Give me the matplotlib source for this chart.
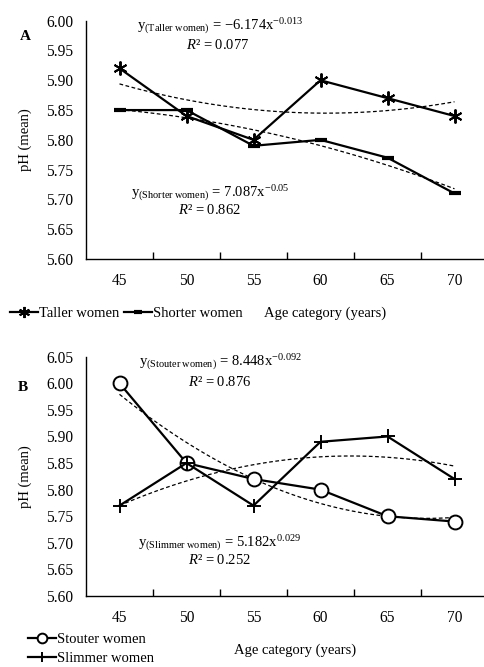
import numpy as np
import matplotlib
matplotlib.use("Agg")
import matplotlib.pyplot as plt

plt.rcParams['font.family'] = ['Liberation Serif', 'DejaVu Serif']
plt.rcParams['mathtext.fontset'] = 'custom'
plt.rcParams['mathtext.rm'] = 'Liberation Serif'
plt.rcParams['mathtext.it'] = 'Liberation Serif:italic'
plt.rcParams['mathtext.bf'] = 'Liberation Serif:bold'

ages = ['45', '50', '55', '60', '65', '70']
taller = [5.92, 5.84, 5.80, 5.90, 5.87, 5.84]
shorter = [5.85, 5.85, 5.79, 5.80, 5.77, 5.71]
stouter = [6.00, 5.85, 5.82, 5.80, 5.75, 5.74]
slimmer = [5.77, 5.85, 5.77, 5.89, 5.90, 5.82]

yticks_a = [5.60, 5.65, 5.70, 5.75, 5.80, 5.85, 5.90, 5.95, 6.00]
yticks_b = [5.60, 5.65, 5.70, 5.75, 5.80, 5.85, 5.90, 5.95, 6.00, 6.05]

fig = plt.figure(figsize=(4.84, 6.67), dpi=100)
W, H = 484, 667

def make_ax(top_px, bot_px):
    left = 86 / W
    width = 402 / W
    return fig.add_axes([left, 1 - bot_px / H, width, (bot_px - top_px) / H])

axA = make_ax(20.7, 259)
axB = make_ax(356.7, 596)

x = np.arange(len(ages))
xf = np.linspace(0, len(ages) - 1, 100)

def trend(ax, vals):
    c = np.polyfit(x + 1, vals, 2)
    ax.plot(xf, np.polyval(c, xf + 1), color='black', lw=0.9, ls=(0, (3, 2)), zorder=3)

def style(ax, yt):
    ax.set_xlim(-0.5, len(ages) - 0.5)
    ax.set_ylim(yt[0], yt[-1])
    ax.set_yticks(yt)
    ax.set_yticklabels([f'{v:.2f}' for v in yt])
    ax.tick_params(axis='y', length=0, pad=9, labelsize=11.2)
    ax.set_xticks(np.arange(0.5, len(ages) - 1, 1))
    ax.set_xticklabels([])
    ax.tick_params(axis='x', which='major', direction='in', length=5, width=1)
    ax.set_xticks(x, minor=True)
    ax.set_xticklabels(ages, minor=True)
    ax.tick_params(axis='x', which='minor', length=0, pad=10, labelsize=11.2)
    for s in ['top', 'right']:
        ax.spines[s].set_visible(False)
    for s in ['left', 'bottom']:
        ax.spines[s].set_linewidth(1.0)
    ax.set_ylabel('pH (mean)', fontsize=10.5)
    ax.yaxis.set_label_coords(-0.134, 0.5)

# Panel A
trend(axA, taller)
trend(axA, shorter)
lA1, = axA.plot(x, taller, color='black', lw=1.6, marker=(6, 2, 0), ms=10, mew=1.4,
                label='Taller women', zorder=4)
lA2, = axA.plot(x, shorter, color='black', lw=1.6, marker='_', ms=8, mew=3,
                label='Shorter women', zorder=4)
style(axA, yticks_a)
axA.set_xlabel('Age category (years)', fontsize=10.5)
axA.xaxis.set_label_coords((325 - 86) / 402, (259 - 306) / 238)
axA.text((25 - 86) / 402, (259 - 37) / 238, 'A', transform=axA.transAxes, fontsize=11,
         fontweight='bold', ha='center', va='center')
axA.text((220 - 86) / 402, (259 - 26) / 238,
         r'y$_{\rm (Taller\ women)}$ = −6.174x$^{-0.013}$',
         transform=axA.transAxes, fontsize=10.5, ha='center', va='center')
axA.text((218 - 86) / 402, (259 - 45) / 238, r'$R$² = 0.077',
         transform=axA.transAxes, fontsize=10.5, ha='center', va='center')
axA.text((210 - 86) / 402, (259 - 193) / 238,
         r'y$_{\rm (Shorter\ women)}$ = 7.087x$^{-0.05}$',
         transform=axA.transAxes, fontsize=10.5, ha='center', va='center')
axA.text((210 - 86) / 402, (259 - 210) / 238, r'$R$² = 0.862',
         transform=axA.transAxes, fontsize=10.5, ha='center', va='center')
fig.legend(handles=[lA1, lA2], loc='center left', bbox_to_anchor=(10 / W, 1 - 313 / H),
           ncol=2, frameon=False, fontsize=10.5, handlelength=1.9, handletextpad=0.1,
           columnspacing=0.3, borderpad=0, borderaxespad=0, markerscale=0.8)

# Panel B
trend(axB, stouter)
trend(axB, slimmer)
lB1, = axB.plot(x, stouter, color='black', lw=1.6, marker='o', ms=10, mfc='white', mew=1.4,
                label='Stouter women', zorder=4)
lB2, = axB.plot(x, slimmer, color='black', lw=1.6, marker='+', ms=10, mew=1.4,
                label='Slimmer women', zorder=5)
style(axB, yticks_b)
axB.set_xlabel('Age category (years)', fontsize=10.5)
axB.xaxis.set_label_coords((295 - 86) / 402, (596 - 643) / 239)
axB.text((23 - 86) / 402, (596 - 388) / 239, 'B', transform=axB.transAxes, fontsize=11,
         fontweight='bold', ha='center', va='center')
axB.text((220 - 86) / 402, (596 - 362) / 239,
         r'y$_{\rm (Stouter\ women)}$ = 8.448x$^{-0.092}$',
         transform=axB.transAxes, fontsize=10.5, ha='center', va='center')
axB.text((220 - 86) / 402, (596 - 382) / 239, r'$R$² = 0.876',
         transform=axB.transAxes, fontsize=10.5, ha='center', va='center')
axB.text((220 - 86) / 402, (596 - 543) / 239,
         r'y$_{\rm (Slimmer\ women)}$ = 5.182x$^{0.029}$',
         transform=axB.transAxes, fontsize=10.5, ha='center', va='center')
axB.text((220 - 86) / 402, (596 - 560) / 239, r'$R$² = 0.252',
         transform=axB.transAxes, fontsize=10.5, ha='center', va='center')
fig.legend(handles=[lB1, lB2], loc='center left', bbox_to_anchor=(28 / W, 1 - 649 / H),
           ncol=1, frameon=False, fontsize=10.5, handlelength=1.9, handletextpad=0.1,
           labelspacing=0.45, borderpad=0, borderaxespad=0, markerscale=0.7)

fig.savefig('out.png', dpi=100)
